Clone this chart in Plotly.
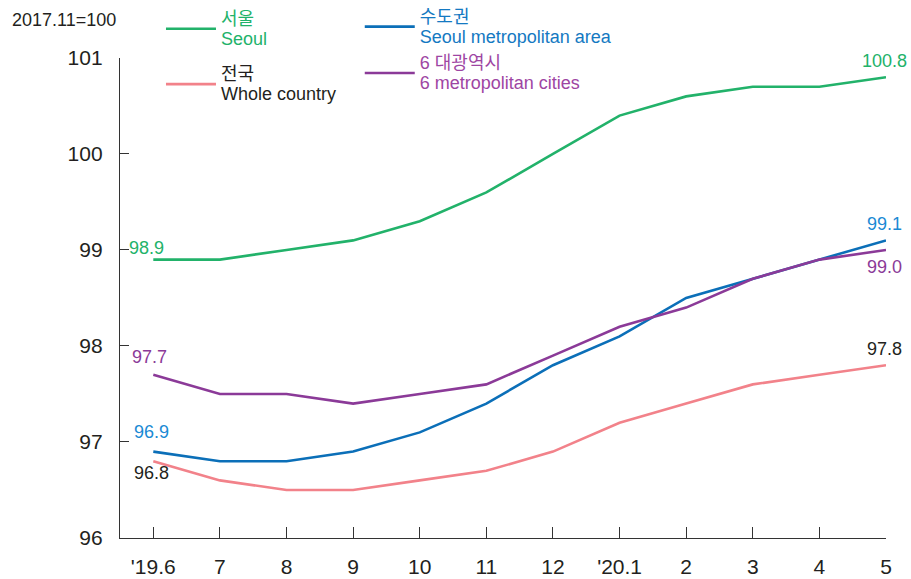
import plotly.graph_objects as go

months = ["'19.6", "7", "8", "9", "10", "11", "12", "'20.1", "2", "3", "4", "5"]
seoul = [98.9, 98.9, 99.0, 99.1, 99.3, 99.6, 100.0, 100.4, 100.6, 100.7, 100.7, 100.8]
metro_area = [96.9, 96.8, 96.8, 96.9, 97.1, 97.4, 97.8, 98.1, 98.5, 98.7, 98.9, 99.1]
whole = [96.8, 96.6, 96.5, 96.5, 96.6, 96.7, 96.9, 97.2, 97.4, 97.6, 97.7, 97.8]
six_cities = [97.7, 97.5, 97.5, 97.4, 97.5, 97.6, 97.9, 98.2, 98.4, 98.7, 98.9, 99.0]
y_ticks = [96, 97, 98, 99, 100, 101]

FONT = "Liberation Sans, Arial, Noto Sans CJK KR, sans-serif"
DARK = "#231F20"
GREEN = "#22B26A"
BLUE = "#0B6FB8"
BLUE_T = "#1A8AD4"
PURPLE = "#8B3A98"
PURPLE_T = "#9E45A3"
PINK = "#F2828A"

x = list(range(len(months)))

fig = go.Figure()

def add(name, ys, color, legend, txtcolor, grp):
    fig.add_trace(go.Scatter(
        x=x, y=ys, mode="lines", line=dict(color=color, width=2.6),
        name=f"<span style='color:{txtcolor};font-size:18px'>{name}</span>",
        legend=legend, legendgroup=grp, cliponaxis=False, hoverinfo="skip"))

add("서울<br>Seoul", seoul, GREEN, "legend", GREEN, "g1")
add("수도권<br>Seoul metropolitan area", metro_area, BLUE, "legend2", "#1479C2", "g2")
add("전국<br>Whole country", whole, PINK, "legend", DARK, "g3")
add("6 대광역시<br>6 metropolitan cities", six_cities, PURPLE, "legend2", PURPLE_T, "g4")

def lab(xi, ys, color, dx, dy):
    fig.add_annotation(x=xi, y=ys[xi], text=f"{ys[xi]:.1f}", showarrow=False,
                       xshift=dx, yshift=dy, font=dict(size=18, color=color, family=FONT))

lab(0, seoul, GREEN, -7, 12)
lab(0, metro_area, BLUE_T, -2, 20)
lab(0, whole, DARK, -2, -12)
lab(0, six_cities, PURPLE, -4, 18)
lab(11, seoul, GREEN, -2, 16)
lab(11, metro_area, BLUE_T, -2, 16)
lab(11, six_cities, PURPLE, -2, -17)
lab(11, whole, DARK, -2, 16)

fig.add_annotation(xref="paper", yref="paper", x=-0.1436, y=0.963, xanchor="left", yanchor="middle",
                   text="2017.11=100", showarrow=False, font=dict(size=18, color=DARK, family=FONT))

fig.update_layout(
    width=911, height=579,
    margin=dict(l=120, r=25, t=0, b=41),
    paper_bgcolor="white", plot_bgcolor="white",
    font=dict(family=FONT, color=DARK),
    showlegend=True,
    legend=dict(x=0.0535, y=0.996, xanchor="left", yanchor="top", bgcolor="rgba(0,0,0,0)",
                font=dict(size=15.5, family=FONT), itemwidth=50, tracegroupgap=12,
                traceorder="grouped"),
    legend2=dict(x=0.313, y=1.0, xanchor="left", yanchor="top", bgcolor="rgba(0,0,0,0)",
                 font=dict(size=15.5, family=FONT), itemwidth=50, tracegroupgap=3,
                 traceorder="grouped"),
)
fig.update_xaxes(range=[-0.5, 11], tickvals=x, ticktext=months, showline=True, linecolor="#333333",
                 linewidth=1.3, ticks="inside", ticklen=11, tickcolor="#333333", tickwidth=1.3,
                 showgrid=False, zeroline=False, tickfont=dict(size=21, color=DARK, family=FONT),
                 ticklabelstandoff=10, automargin=False)
fig.update_yaxes(range=[96, 101], domain=[0, 0.8922], tickvals=y_ticks, ticktext=[str(v) for v in y_ticks],
                 showline=True, linecolor="#333333", linewidth=1.3, ticks="inside", ticklen=9,
                 tickcolor="#333333", tickwidth=1.3, showgrid=False, zeroline=False,
                 tickfont=dict(size=21, color=DARK, family=FONT), ticklabelstandoff=12, automargin=False)

fig.write_html("out.html", config={"displayModeBar": False},
               post_script="document.body.style.margin='0';")
